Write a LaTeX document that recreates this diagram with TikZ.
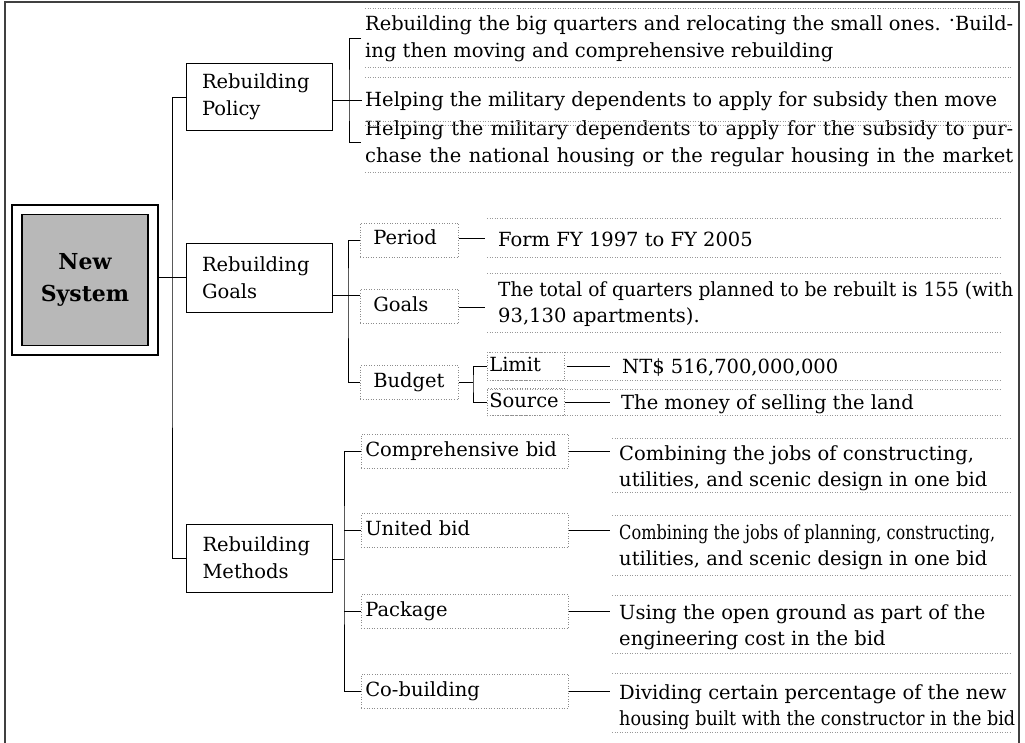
\documentclass[tikz,border=0pt]{standalone}
\usepackage{fontspec}
\setmainfont{DejaVu Serif}
\usepackage{graphicx}
\newlength\jlen
\newcommand\jline[2]{\settowidth\jlen{#2}\ifdim\jlen>#1\relax\resizebox{#1}{\height}{#2}\else\makebox[#1][s]{#2}\fi}
\newcommand\fline[2]{\settowidth\jlen{#2}\ifdim\jlen>#1\relax\resizebox{#1}{\height}{#2}\else#2\fi}
\tikzset{
  bodyfont/.style={font=\fontsize{19.5}{27}\selectfont},
  txt/.style={bodyfont, inner sep=0pt, anchor=base west},
  lvl/.style={draw, line width=0.9pt, minimum width=146pt, minimum height=67pt,
    text width=114pt, inner xsep=16pt, inner ysep=0pt, align=left, bodyfont},
  sub/.style={draw=black!45, dotted, line width=0.6pt, minimum height=34pt,
    text height=15pt, text depth=5pt, inner ysep=0pt, align=left, anchor=west, bodyfont},
  conn/.style={line width=0.9pt, black},
  dotl/.style={draw=black!40, dotted, line width=0.5pt},
}
\begin{document}
\begin{tikzpicture}[x=1pt,y=-1pt]
\useasboundingbox (0,0) rectangle (1025,743);
% frame
\draw[line width=1.4pt, black!75] (5,743) -- (5,2) -- (1019,2) -- (1019,743);

% root
\node[draw=black, line width=2pt, minimum width=146pt, minimum height=150pt] (nsout) at (85,280) {};
\node[draw, fill=black!28, line width=1.2pt, minimum width=126pt, minimum height=131pt,
  align=center, font=\fontsize{22}{32}\selectfont\bfseries] (ns) at (85,280) {New\\System};

% level 1
\node[lvl] (pol) at (259,97) {Rebuilding\\Policy};
\node[lvl, minimum height=69pt] (goal) at (259,277.5) {Rebuilding\\Goals};
\node[lvl, minimum height=68pt] (meth) at (259.5,558) {Rebuilding\\Methods};

% goals sub boxes
\node[sub, text width=72pt, inner xsep=13pt, minimum width=98pt] (per) at (360,240) {Period};
\node[sub, text width=72pt, inner xsep=13pt, minimum width=98pt] (gsub) at (360,306) {Goals};
\node[sub, text width=72pt, inner xsep=13pt, minimum width=98pt] (bud) at (360,382.5) {Budget};
\node[sub, text width=73pt, inner xsep=2pt, minimum width=77pt, minimum height=28pt] (lim) at (487,366) {Limit};
\node[sub, text width=73pt, inner xsep=2pt, minimum width=77pt, minimum height=27pt] (src) at (487,402) {Source};

% methods sub boxes
\node[sub, text width=199pt, inner xsep=4pt, minimum width=207pt] (comp) at (361,451) {Comprehensive bid};
\node[sub, text width=199pt, inner xsep=4pt, minimum width=207pt] (unb) at (361,530.5) {United bid};
\node[sub, text width=199pt, inner xsep=4pt, minimum width=207pt] (pkg) at (361,611.5) {Package};
\node[sub, text width=199pt, inner xsep=4pt, minimum width=207pt] (cob) at (361,691) {Co-building};

% policy texts
\node[txt] (pi1a) at (365,31) {\jline{648pt}{Rebuilding the big quarters and relocating the small ones. \raisebox{0.5em}{.}Build-}};
\node[txt] (pi1b) at (365,58) {ing then moving and comprehensive rebuilding};
\node[txt] (pi2) at (365,106.5) {\fline{648pt}{Helping the military dependents to apply for subsidy then move}};
\node[txt] (pi3a) at (365,136) {\jline{648pt}{Helping the military dependents to apply for the subsidy to pur-}};
\node[txt] (pi3b) at (365,163) {\jline{648pt}{chase the national housing or the regular housing in the market}};

% goals texts
\node[txt] (gt0) at (498,246.5) {Form FY 1997 to FY 2005};
\node[txt] (gt1a) at (498,296.5) {\jline{515pt}{The total of quarters planned to be rebuilt is 155 (with}};
\node[txt] (gt1b) at (498,322.5) {93,130 apartments).};
\node[txt] (nt) at (622,373) {NT\$ 516,700,000,000};
\node[txt] (mon) at (621,409.5) {The money of selling the land};

% methods texts
\node[txt] (c1a) at (619,460.5) {\fline{390pt}{Combining the jobs of constructing,}};
\node[txt] (c1b) at (619,486.5) {\fline{390pt}{utilities, and scenic design in one bid}};
\node[txt] (c2a) at (619,539.5) {\fline{376pt}{Combining the jobs of planning, constructing,}};
\node[txt] (c2b) at (619,565.5) {\fline{390pt}{utilities, and scenic design in one bid}};
\node[txt] (c3a) at (619,619.5) {\fline{390pt}{Using the open ground as part of the}};
\node[txt] (c3b) at (619,645.5) {engineering cost in the bid};
\node[txt] (c4a) at (619,699.5) {\fline{391pt}{Dividing certain percentage of the new}};
\node[txt] (c4b) at (619,725.5) {\fline{396pt}{housing built with the constructor in the bid}};

% dotted guide lines of the text blocks
\foreach \y in {8,67,77,121,125,172} \draw[dotl] (365,\y) -- (1012,\y);
\foreach \y in {218,257,273,332,352,380,389,415} \draw[dotl] (487,\y) -- (1001,\y);
\foreach \y in {438,492,515,575,595,653,673,732} \draw[dotl] (612,\y) -- (1010,\y);

% trunk
\coordinate (tr) at (172,300);
\draw[conn] (pol.west) -| (tr) |- (meth.west);
\draw[conn] (nsout.east |- goal.west) -- (goal.west);

% policy bracket
\coordinate (bP) at (349,100);
\coordinate (pc1) at (361,38);
\coordinate (pc3) at (361,142);
\draw[conn] (pol.east |- bP) -- ([xshift=-3pt]bP -| pi2.west);
\draw[conn] (pc1) -| (bP) |- (pc3);

% goals bracket
\coordinate (bG) at (348,295);
\draw[conn] (goal.east |- bG) -- (gsub.west |- bG);
\draw[conn] (per.west) -| (bG) |- (bud.west);
\draw[conn] (per.east |- 0,238) -- ([xshift=-13pt]gt0.west |- 0,238);
\draw[conn] (gsub.east |- 0,307) -- ([xshift=-13pt]gt1a.west |- 0,307);
\coordinate (bB) at (473,383);
\draw[conn] (bud.east) -- (bud.east -| bB);
\draw[conn] (lim.west) -| (bB) |- (src.west);
\draw[conn] ([xshift=2pt]lim.east) -- ([xshift=-12pt]lim.east -| nt.west);
\draw[conn] (src.east) -- ([xshift=-11pt]src.east -| mon.west);

% methods bracket
\coordinate (bM) at (344,559);
\draw[conn] (meth.east |- bM) -- (bM);
\draw[conn] (comp.west) -| (bM) |- (cob.west);
\draw[conn] (unb.west) -- (unb.west -| bM);
\draw[conn] (pkg.west) -- (pkg.west -| bM);
\draw[conn] (comp.east) -- ([xshift=-9pt]comp.east -| c1a.west);
\draw[conn] (unb.east) -- ([xshift=-9pt]unb.east -| c2a.west);
\draw[conn] (pkg.east) -- ([xshift=-9pt]pkg.east -| c3a.west);
\draw[conn] (cob.east) -- ([xshift=-9pt]cob.east -| c4a.west);
\end{tikzpicture}
\end{document}
